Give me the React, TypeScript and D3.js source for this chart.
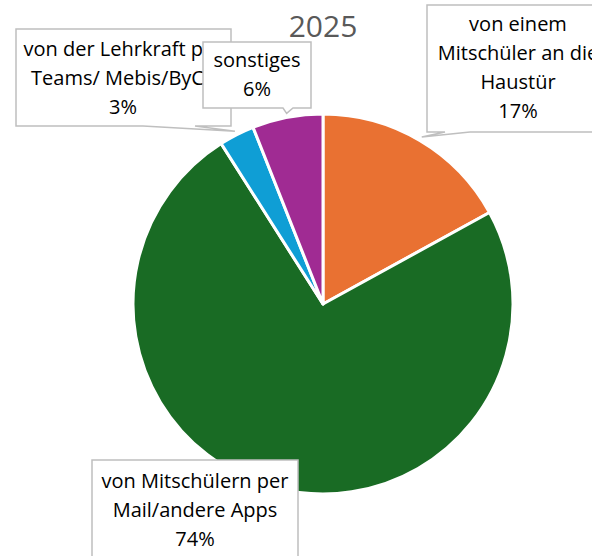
import * as d3 from "d3";

// chart values
const categories = [
  "von einem Mitschüler an die Haustür",
  "von Mitschülern per Mail/andere Apps",
  "von der Lehrkraft per Teams/ Mebis/ByCS",
  "sonstiges",
];
const values = [17, 74, 3, 6];
const colors = ["#E97132", "#196B24", "#0F9ED5", "#A02B93"];
const labelLines = [
  ["von einem", "Mitschüler an die", "Haustür", "17%"],
  ["von Mitschülern per", "Mail/andere Apps", "74%"],
  ["von der Lehrkraft per", "Teams/ Mebis/ByCS", "3%"],
  ["sonstiges", "6%"],
];

const width = 592;
const height = 556;
const cx = 323;
const cy = 304;
const radius = 190;

// callout boxes with the wedge base on the bottom edge (wa..wb)
const boxes = [
  { x0: 427, y0: 5, x1: 609, y1: 132, wa: 445, wb: 470, textX: 518, textY: 31 },
  { x0: 92, y0: 460, x1: 298, y1: 580, wa: null, wb: null, textX: 195, textY: 488 },
  { x0: 16, y0: 29, x1: 231, y1: 126, wa: 143, wb: 195, textX: 123, textY: 56 },
  { x0: 203, y0: 42, x1: 311, y1: 108, wa: 283, wb: 293, textX: 257, textY: 67 },
];
const drawOrder = [1, 0, 2, 3];

export default function App() {
  const pie = d3
    .pie<number>()
    .sort(null)
    .value((d) => d);
  const arcs = pie(values);
  const arc = d3.arc<d3.PieArcDatum<number>>().innerRadius(0).outerRadius(radius);

  const tipFor = (i: number) => {
    const a = (arcs[i].startAngle + arcs[i].endAngle) / 2;
    const r = radius + 4;
    return [cx + r * Math.sin(a), cy - r * Math.cos(a)];
  };

  const lineH = 29;

  return (
    <svg
      width={width}
      height={height}
      style={{ position: "absolute", left: 0, top: 0, background: "#fff" }}
      fontFamily="'Open Sans', sans-serif"
    >
      <text x={323} y={37} textAnchor="middle" fontSize={30} fill="#595959">
        2025
      </text>
      <g transform={`translate(${cx},${cy})`}>
        {arcs.map((d, i) => (
          <path
            key={categories[i]}
            d={arc(d) ?? ""}
            fill={colors[i]}
            stroke="#fff"
            strokeWidth={3}
            strokeLinejoin="round"
          />
        ))}
      </g>
      {drawOrder.map((i) => {
        const b = boxes[i];
        let p: string;
        if (b.wa == null || b.wb == null) {
          p = `M${b.x0},${b.y0}H${b.x1}V${b.y1}H${b.x0}Z`;
        } else {
          const [tx, ty] = tipFor(i);
          p = `M${b.x0},${b.y0}H${b.x1}V${b.y1}H${b.wb}L${tx},${ty}L${b.wa},${b.y1}H${b.x0}Z`;
        }
        return (
          <g key={categories[i]}>
            <path d={p} fill="#fff" stroke="#BFBFBF" strokeWidth={1.5} />
            {labelLines[i].map((t, k) => (
              <text
                key={k}
                x={b.textX}
                y={b.textY + k * lineH}
                textAnchor="middle"
                fontSize={20}
                fill="#000"
              >
                {t}
              </text>
            ))}
          </g>
        );
      })}
    </svg>
  );
}
